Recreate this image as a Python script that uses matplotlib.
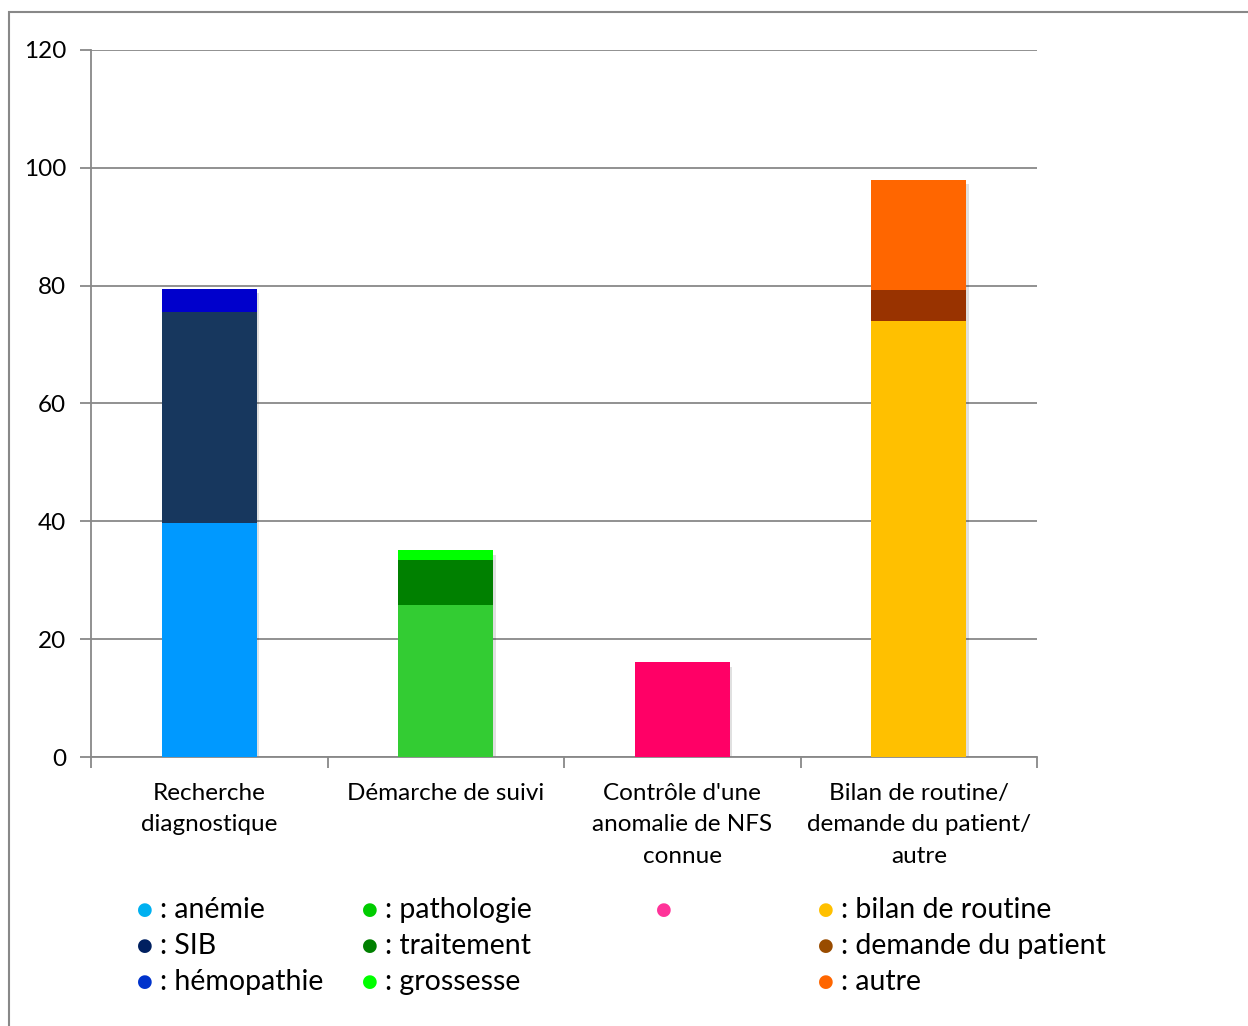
import numpy as np
import matplotlib.pyplot as plt
from matplotlib.patches import Rectangle

plt.rcParams['font.family'] = ['Lato', 'DejaVu Sans']

categories = ["Recherche\ndiagnostique", "Démarche de suivi",
              "Contrôle d'une\nanomalie de NFS\nconnue",
              "Bilan de routine/\ndemande du patient/\nautre"]

# segments par catégorie (bas -> haut)
seg_values = [
    [39.7, 35.8, 4.0],
    [25.8, 7.6, 1.7],
    [16.1],
    [74.0, 5.3, 18.7],
]
seg_colors = [
    ["#0099FF", "#17375E", "#0000CC"],
    ["#33CC33", "#008000", "#00FF00"],
    ["#FF0066"],
    ["#FFC000", "#993300", "#FF6600"],
]
legend_labels = [
    [": anémie", ": SIB", ": hémopathie"],
    [": pathologie", ": traitement", ": grossesse"],
    [""],
    [": bilan de routine", ": demande du patient", ": autre"],
]
legend_colors = [
    ["#00B0F0", "#002060", "#0033CC"],
    ["#00CC00", "#008000", "#00FF00"],
    ["#FF3399"],
    ["#FFC000", "#994C00", "#FF6600"],
]

fig = plt.figure(figsize=(12.48, 10.26), dpi=100)
fig.patches.append(Rectangle((9 / 1248, -0.1), 1.2, 1.1 - 12 / 1026,
                             transform=fig.transFigure, fill=False,
                             edgecolor="#888888", linewidth=1.5))

ax = fig.add_axes([91 / 1248, 1 - 757 / 1026, (1037 - 91) / 1248, (757 - 50) / 1026])
x = np.arange(len(categories))
for i, (vals, cols) in enumerate(zip(seg_values, seg_colors)):
    # ombre légère derrière la barre empilée
    ax.bar(x[i] + 0.012, sum(vals) - 0.8, width=0.4, color="#000000",
           alpha=0.12, zorder=2, linewidth=0)
    bottom = 0
    for v, c in zip(vals, cols):
        ax.bar(x[i], v, bottom=bottom, width=0.4, color=c, zorder=3,
               linewidth=0)
        bottom += v

ax.set_xlim(-0.5, 3.5)
ax.set_ylim(0, 120)
ax.set_yticks(np.arange(0, 121, 20))
ax.yaxis.grid(True, color="#888888", linewidth=1.3)
ax.set_axisbelow(True)
for s in ["top", "right"]:
    ax.spines[s].set_visible(False)
for s in ["left", "bottom"]:
    ax.spines[s].set_color("#888888")
    ax.spines[s].set_linewidth(1.3)
ax.tick_params(axis="y", length=8, color="#888888", width=1.3, labelsize=17.5, pad=10)
ax.set_xticks(np.arange(-0.5, 3.6, 1))
ax.set_xticklabels([])
ax.tick_params(axis="x", length=8, color="#888888", width=1.3)
for i, lab in enumerate(categories):
    ax.text(x[i], -4.4, lab, ha="center", va="top", fontsize=17.5,
            linespacing=1.62, transform=ax.transData)

# légende manuelle
col_x = [145, 370, 664, 826]
row_y = [910, 946, 982]
for j in range(4):
    for k, (lab, c) in enumerate(zip(legend_labels[j], legend_colors[j])):
        fx, fy = col_x[j] / 1248, 1 - row_y[k] / 1026
        fig.text(fx, fy, "●", color=c, fontsize=13, ha="center", va="center",
                 family="DejaVu Sans")
        fig.text(fx + 15 / 1248, fy, lab, fontsize=20.5, ha="left", va="center")

plt.savefig("out.png", dpi=100)
